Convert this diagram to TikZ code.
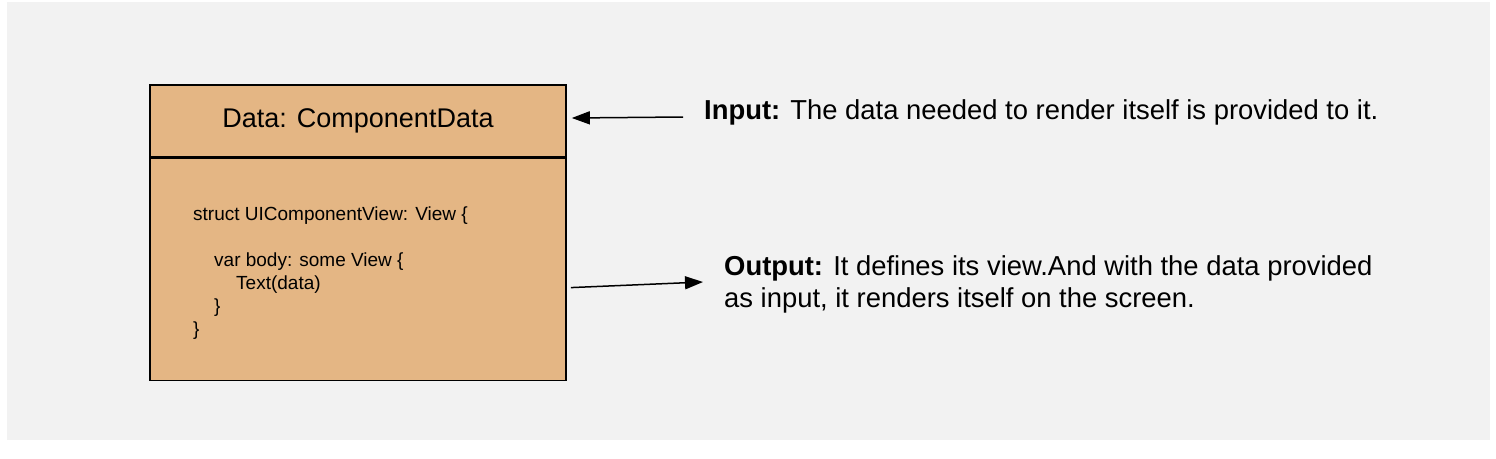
\documentclass[tikz,border=0pt]{standalone}
\usepackage{fontspec}
\setmainfont{Liberation Sans}
\usepackage{tikz}
\usetikzlibrary{positioning, arrows.meta}
\definecolor{boxfill}{HTML}{E4B684}
\definecolor{panel}{HTML}{F2F2F2}

\begin{document}
\begin{tikzpicture}[x=1pt, y=-1pt,
    classbox/.style={draw, line width=1.6pt, fill=boxfill, minimum width=416pt, inner sep=0pt},
    note/.style={anchor=west, inner sep=0pt, align=left, font=\fontsize{27.4}{32}\selectfont},
    arr/.style={line width=1.5pt, -{Triangle[length=18pt, width=13pt]}}]
      \useasboundingbox (0,0) rectangle (1496,458);
      \fill[panel] (7,2) rectangle (1490,440);
      \node[classbox, minimum height=72pt, font=\fontsize{27}{32}\selectfont] (head) at (358,121) {Data: ComponentData};
      \node[classbox, minimum height=222pt, below=0pt of head] (body) {};
      \node[anchor=west, inner sep=0pt, align=left, font=\fontsize{19}{23}\selectfont] (code) at (193,273.5)
        {struct UIComponentView: View \{\\[23pt]
         \hspace*{21pt}var body: some View \{\\
         \hspace*{43pt}Text(data)\\
         \hspace*{21pt}\}\\
         \}};
      \node[note] (intext) at (704,112) {\textbf{Input:} The data needed to render itself is provided to it.};
      \node[note] (outtext) at (724,284) {\textbf{Output:} It defines its view.And with the data provided\\as input, it renders itself on the screen.};
      \draw[arr] ([xshift=-21pt, yshift=-5pt]intext.west) -- ([xshift=5pt, yshift=3pt]head.east);
      \draw[arr] ([xshift=4pt, yshift=-18pt]body.east) -- ([xshift=-21pt, yshift=2pt]outtext.west);
    \end{tikzpicture}
\end{document}
